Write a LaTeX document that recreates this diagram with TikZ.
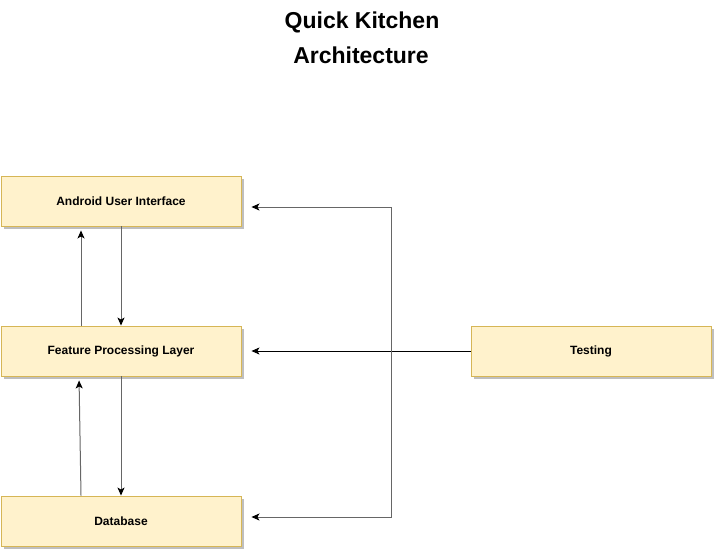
\documentclass[tikz,border=0pt]{standalone}
\usepackage{fontspec}
\setmainfont{Liberation Sans}
\usetikzlibrary{arrows.meta,shadows}
\definecolor{boxfill}{HTML}{FFF2CC}
\definecolor{boxdraw}{HTML}{D6B656}
\definecolor{linegray}{HTML}{666666}
\tikzset{
  tip/.tip={Stealth[length=8pt,width=7pt,inset=2pt,color=black]},
  box/.style={draw=boxdraw, fill=boxfill, line width=0.9pt, minimum width=240pt, minimum height=50pt,
    inner sep=0pt, font=\fontsize{12}{14}\selectfont\bfseries,
    drop shadow={shadow xshift=2.5pt, shadow yshift=-2.5pt, opacity=0.25, fill=black}},
  conn/.style={draw=linegray, line width=1pt, -tip},
  conn2/.style={draw=linegray, line width=1pt, tip-tip},
  connb/.style={draw=black, line width=0.9pt, -tip},
  titlefont/.style={font=\fontsize{23}{35}\selectfont\bfseries, inner sep=0pt, anchor=base},
}
\begin{document}
\begin{tikzpicture}[x=1pt,y=-1pt]
\useasboundingbox (0,0) rectangle (722,558);
% title
\node[titlefont] (title1) at (362,28) {Quick Kitchen};
\node[titlefont] (title2) at (361,63) {Architecture};
% boxes
\node[box] (and) at (121,201) {Android User Interface};
\node[box] (feat) at (121,351) {Feature Processing Layer};
\node[box] (db) at (121,521) {Database};
\node[box] (test) at (591,351) {Testing};
% vertical connectors
\draw[conn, shorten >=4pt] ([xshift=-40pt]feat.north) -- ([xshift=-40pt]and.south);
\draw[conn] (and.south) -- (feat.north);
\draw[conn, shorten >=4pt] ([xshift=-40pt]db.north) -- ([xshift=-42pt]feat.south);
\draw[conn] (feat.south) -- (db.north);
% testing connector
\draw[connb, shorten >=10pt] (test.west) -- (feat.east);
% side connector between UI and database
\coordinate (c1) at (391,207);
\coordinate (c2) at (391,517);
\draw[conn2, shorten <=10pt, shorten >=10pt] ([yshift=-6pt]and.east) -- (c1) -- (c2) -- ([yshift=4pt]db.east);
\end{tikzpicture}
\end{document}
